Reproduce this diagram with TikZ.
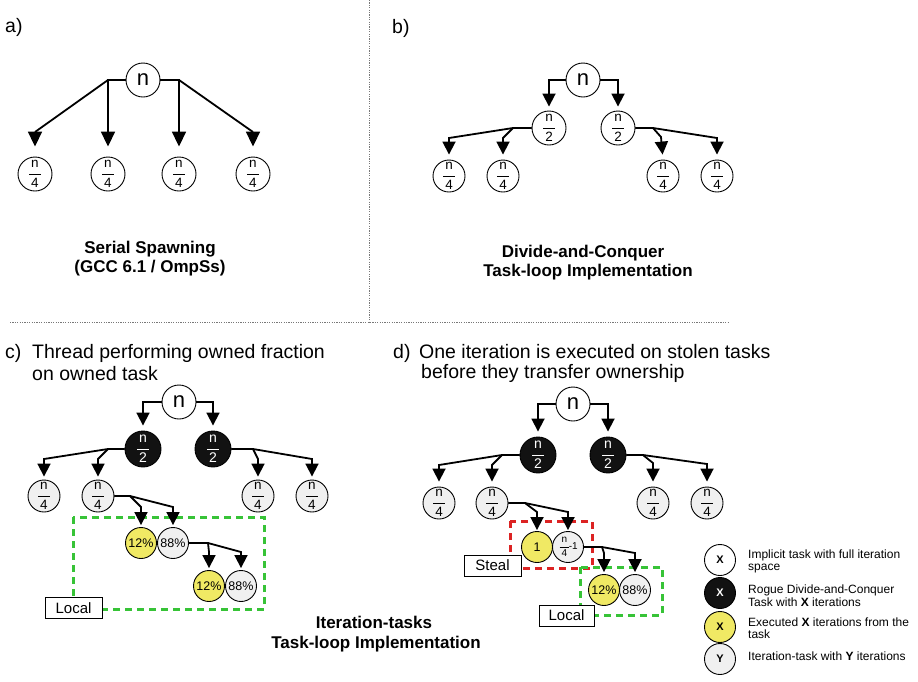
\documentclass[tikz,border=0pt]{standalone}
\usepackage{amsmath}
\usepackage{fontspec}
\setmainfont{Liberation Sans}
\usetikzlibrary{arrows.meta}
\definecolor{ylw}{RGB}{240,233,100}
\definecolor{lgray}{RGB}{240,240,240}
\definecolor{grn}{RGB}{55,195,55}
\definecolor{rd}{RGB}{220,35,35}
\definecolor{dotc}{RGB}{120,120,120}
\newcommand\fr[2]{$\dfrac{\text{\hspace{2pt}#1\hspace{2pt}}}{\text{\hspace{2pt}#2\hspace{2pt}}}$}
\begin{document}
\begin{tikzpicture}[x=1pt,y=-1pt,
 task/.style={circle,draw,line width=0.9pt,inner sep=0pt,minimum size=#1},
 root/.style={task=34pt,fill=white,font=\fontsize{22}{22}\selectfont},
 frw/.style={task=33pt,fill=white,font=\fontsize{13.5}{13.5}\selectfont},
 frg/.style={task=32pt,fill=lgray,font=\fontsize{13.5}{13.5}\selectfont},
 rogue/.style={task=36pt,fill=black!93,text=white,font=\fontsize{14}{14}\selectfont},
 exec/.style={task=31pt,fill=ylw,font=\fontsize{12.5}{12.5}\selectfont},
 itask/.style={task=31pt,fill=lgray,font=\fontsize{12.5}{12.5}\selectfont},
 conn/.style={line width=1.8pt,-{Triangle[width=13pt,length=13pt]}},
 conna/.style={line width=1.8pt,-{Triangle[width=14pt,length=15pt]}},
 hd/.style={anchor=base west,inner sep=0pt,font=\fontsize{19.5}{22}\selectfont},
 ttl/.style={anchor=base,inner sep=0pt,font=\fontsize{17}{19}\selectfont\bfseries},
 lbox/.style={draw,fill=white,line width=0.9pt,minimum width=57pt,minimum height=21pt,inner sep=0pt,font=\fontsize{15}{15}\selectfont},
 gdash/.style={draw=grn,line width=3pt,dash pattern=on 7pt off 5pt},
 rdash/.style={draw=rd,line width=3pt,dash pattern=on 7pt off 5pt},
 sep/.style={draw=dotc,line width=1pt,dash pattern=on 1.2pt off 1.2pt},
 leg/.style={anchor=base west,inner sep=0pt,font=\fontsize{12}{13}\selectfont},
 legc/.style={task=31pt,font=\fontsize{11}{11}\selectfont\bfseries},
]
\useasboundingbox (0,0) rectangle (918,681);

% separators
\draw[sep] (369,0) -- (369,322);
\draw[sep] (10,322) -- (728,322);

% ---------- panel a ----------
\node[hd] (la) at (5,32) {a)};
\node[root] (na) at (143,80) {n};
\node[frw,minimum size=34pt] (a1) at (35,174) {\fr{n}{4}};
\node[frw,minimum size=34pt] (a2) at (108,174) {\fr{n}{4}};
\node[frw,minimum size=34pt] (a3) at (179,174) {\fr{n}{4}};
\node[frw,minimum size=34pt] (a4) at (253,174) {\fr{n}{4}};
\draw[conna,shorten >=10pt] (na.west) -- (108,80) -- (35,132) -- (a1.north);
\draw[conna,shorten >=10pt] (na.west) -- (108,80) -- (a2.north);
\draw[conna,shorten >=10pt] (na.east) -- (179,80) -- (a3.north);
\draw[conna,shorten >=10pt] (na.east) -- (179,80) -- (253,132) -- (a4.north);
\node[ttl] (ta1) at (150,253) {Serial Spawning};
\node[ttl] (ta2) at (150,272) {(GCC 6.1 / OmpSs)};

% ---------- panel b ----------
\node[hd] (lb) at (392,33) {b)};
\node[root] (nb) at (583,80) {n};
\node[frw,minimum size=34pt] (b1) at (549,128) {\fr{n}{2}};
\node[frw,minimum size=34pt] (b2) at (618,128) {\fr{n}{2}};
\draw[conn,shorten >=4pt] (nb.west) -- (549,80) -- (b1.north);
\draw[conn,shorten >=4pt] (nb.east) -- (618,80) -- (b2.north);
\node[frw,minimum size=32pt] (b11) at (449,176) {\fr{n}{4}};
\node[frw,minimum size=32pt] (b12) at (503,176) {\fr{n}{4}};
\node[frw,minimum size=32pt] (b21) at (663,176) {\fr{n}{4}};
\node[frw,minimum size=32pt] (b22) at (717,176) {\fr{n}{4}};
\draw[conn,shorten >=5pt] (b1.west) -- (513,128) -- (449,138) -- (b11.north);
\draw[conn,shorten >=5pt] (b1.west) -- (513,128) -- (503,138) -- (b12.north);
\draw[conn,shorten >=5pt] (b2.east) -- (653,128) -- (661,137) -- (b21.north);
\draw[conn,shorten >=5pt] (b2.east) -- (653,128) -- (717,138) -- (b22.north);
\node[ttl] (tb1) at (583,257) {Divide-and-Conquer};
\node[ttl] (tb2) at (588,276) {Task-loop Implementation};

% ---------- panel c ----------
\node[hd] (lc) at (5,358) {c)};
\node[hd] (hc1) at (32,358) {Thread performing owned fraction};
\node[hd] (hc2) at (32,380) {on owned task};
\draw[gdash] (73,517) rectangle (264,609);
\node[root] (nc) at (179,402) {n};
\node[rogue] (c1) at (143,449) {\fr{n}{2}};
\node[rogue] (c2) at (213,449) {\fr{n}{2}};
\draw[conn,shorten >=5pt] (nc.west) -- (143,402) -- (c1.north);
\draw[conn,shorten >=5pt] (nc.east) -- (213,402) -- (c2.north);
\node[frg] (c11) at (44,496) {\fr{n}{4}};
\node[frg] (c12) at (98,496) {\fr{n}{4}};
\node[frg] (c21) at (258,496) {\fr{n}{4}};
\node[frg] (c22) at (312,496) {\fr{n}{4}};
\draw[conn,shorten >=3pt] (c1.west) -- (108,449) -- (44,459) -- (c11.north);
\draw[conn,shorten >=3pt] (c1.west) -- (108,449) -- (98,459) -- (c12.north);
\draw[conn,shorten >=3pt] (c2.east) -- (253,449) -- (258,459) -- (c21.north);
\draw[conn,shorten >=3pt] (c2.east) -- (253,449) -- (312,459) -- (c22.north);
\node[exec] (cy1) at (141,543) {12\%};
\node[itask] (cg1) at (173,543) {88\%};
\draw[conn,shorten >=2pt] (c12.east) -- (130,496) -- (141,507) -- (cy1.north);
\draw[conn,shorten >=2pt] (c12.east) -- (130,496) -- (173,507) -- (cg1.north);
\node[exec] (cy2) at (209,586) {12\%};
\node[itask] (cg2) at (241,586) {88\%};
\draw[conn,shorten >=2pt] (cg1.east) -- (208,543) -- (209,552) -- (cy2.north);
\draw[conn,shorten >=2pt] (cg1.east) -- (208,543) -- (241,552) -- (cg2.north);
\node[lbox] (loc1) at (73.5,608) {Local};

% ---------- panel d ----------
\node[hd] (ld) at (393,358) {d)};
\node[hd] (hd1) at (419,358) {One iteration is executed on stolen tasks};
\node[hd] (hd2) at (421,378) {before they transfer ownership};
\draw[rdash] (510,521) rectangle (592,568);
\draw[gdash] (580,567) rectangle (662,615);
\node[root] (nd) at (573,404) {n};
\node[rogue] (d1) at (538,455) {\fr{n}{2}};
\node[rogue] (d2) at (608,455) {\fr{n}{2}};
\draw[conn,shorten >=5pt] (nd.west) -- (538,404) -- (d1.north);
\draw[conn,shorten >=5pt] (nd.east) -- (608,404) -- (d2.north);
\node[frg] (d11) at (439,503) {\fr{n}{4}};
\node[frg] (d12) at (492,503) {\fr{n}{4}};
\node[frg] (d21) at (653,503) {\fr{n}{4}};
\node[frg] (d22) at (707,503) {\fr{n}{4}};
\draw[conn,shorten >=5pt] (d1.west) -- (502,455) -- (439,465) -- (d11.north);
\draw[conn,shorten >=5pt] (d1.west) -- (502,455) -- (492,465) -- (d12.north);
\draw[conn,shorten >=5pt] (d2.east) -- (643,455) -- (653,463) -- (d21.north);
\draw[conn,shorten >=5pt] (d2.east) -- (643,455) -- (707,464) -- (d22.north);
\node[exec] (s1) at (537,547) {1};
\node[itask,font=\fontsize{10}{10}\selectfont] (s2) at (568,547) {\fr{n}{4}\hspace{-1.5pt}-1};
\draw[conn,shorten >=1pt] (d12.east) -- (525,503) -- (537,512) -- (s1.north);
\draw[conn,shorten >=1pt] (d12.east) -- (525,503) -- (568,512) -- (s2.north);
\node[exec] (t1) at (604,590) {12\%};
\node[itask] (t2) at (635,590) {88\%};
\draw[conn,shorten >=2pt] (s2.east) -- (602,547) -- (604,553) -- (t1.north);
\draw[conn,shorten >=2pt] (s2.east) -- (602,547) -- (635,553) -- (t2.north);
\node[lbox] (steal) at (492.5,565.5) {Steal};
\node[lbox,minimum width=55pt] (loc2) at (566.5,615.5) {Local};

% titles c/d
\node[ttl] (tc1) at (374,628) {Iteration-tasks};
\node[ttl] (tc2) at (376,648) {Task-loop Implementation};

% ---------- legend ----------
\node[legc,fill=white] (k1) at (720,560) {X};
\node[legc,fill=black!93,text=white] (k2) at (720,593) {X};
\node[legc,fill=ylw] (k3) at (720,627) {X};
\node[legc,fill=lgray] (k4) at (720,659) {Y};
\node[leg] (k1a) at (748,558) {Implicit task with full iteration};
\node[leg] (k1b) at (748,570) {space};
\node[leg] (k2a) at (748,593) {Rogue Divide-and-Conquer};
\node[leg] (k2b) at (748,606) {Task with \textbf{X} iterations};
\node[leg] (k3a) at (748,626) {Executed \textbf{X} iterations from the};
\node[leg] (k3b) at (748,638) {task};
\node[leg] (k4a) at (748,660) {Iteration-task with \textbf{Y} iterations};
\end{tikzpicture}
\end{document}
